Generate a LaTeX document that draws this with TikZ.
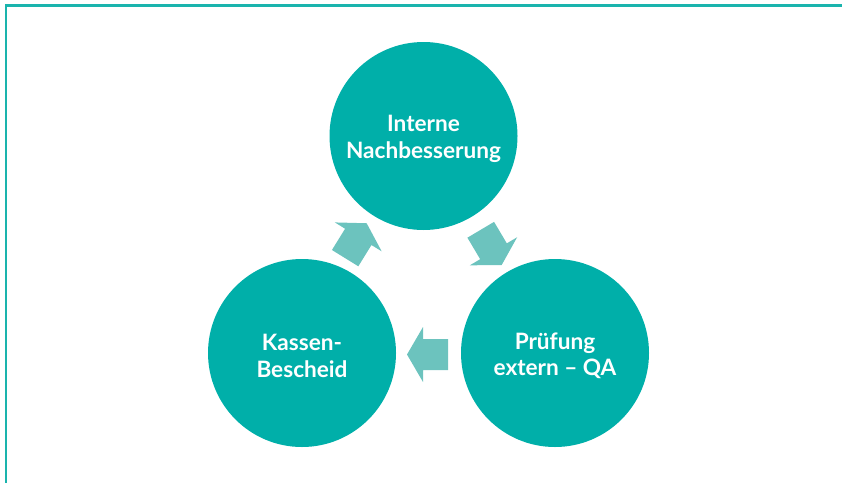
\documentclass[tikz,border=0pt]{standalone}
\usepackage{fontspec}
\setmainfont{Lato}
\definecolor{frameteal}{HTML}{1AB4AD}
\definecolor{circteal}{HTML}{00AFA9}
\definecolor{arrowteal}{HTML}{6CC3BE}
\begin{document}
\begin{tikzpicture}[x=1pt,y=-1pt,
  stage/.style={circle, fill=circteal, minimum size=188pt, inner sep=0pt},
  stagetext/.style={text=white, align=center, yshift=-3pt,
    font=\fontsize{22.6}{26.5}\selectfont\bfseries},
  flowarrow/.pic={
    % block arrow pointing along +x, centred on its own length
    \fill[arrowteal] (-20.5,-15.5) -- (4.5,-15.5) -- (4.5,-27.5) -- (20.5,0)
      -- (4.5,27.5) -- (4.5,15.5) -- (-20.5,15.5) -- cycle;
  }]
\useasboundingbox (0,0) rectangle (842,482);
% outer frame
\draw[frameteal, line width=2.6pt] (6,5.3) rectangle (843,495);
% stages of the cycle
\node[stage, label={[stagetext]center:Interne\\Nachbesserung}] (nach) at (423.5,136) {};
\node[stage, label={[stagetext]center:Prüfung\\extern – QA}] (pruef) at (555,353) {};
\node[stage, label={[stagetext]center:Kassen-\\Bescheid}] (kasse) at (302,353) {};
% arrows between the stages
\pic[rotate=58.3] (a1) at (355.9,240.7) {flowarrow};
\pic[rotate=-59.3] (a2) at (491.2,247.4) {flowarrow};
\pic[rotate=180] (a3) at (427.5,354.5) {flowarrow};
\end{tikzpicture}
\end{document}
